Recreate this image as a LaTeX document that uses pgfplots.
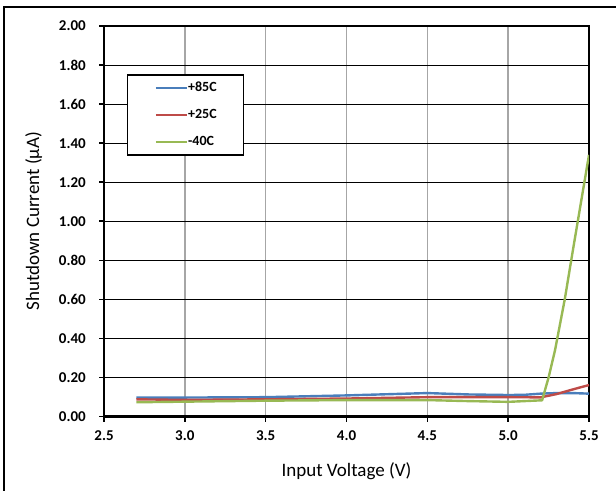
\documentclass[border=0pt]{standalone}
\usepackage{fontspec}
\setmainfont{Carlito}
\usepackage{pgfplots}
\pgfplotsset{compat=1.18}
\definecolor{sA}{HTML}{4A7EBB}
\definecolor{sB}{HTML}{BE4B48}
\definecolor{sC}{HTML}{98B954}
\begin{document}
\begin{tikzpicture}
\useasboundingbox (0,0) rectangle (616bp,491bp);
\draw[line width=2.2bp] (4bp,-10bp) -- (4bp,484bp) -- (640bp,484bp);
\begin{axis}[
  at={(104bp,74.5bp)}, anchor=south west,
  scale only axis, width=485bp, height=390.5bp,
  xmin=2.5, xmax=5.5, ymin=0, ymax=2,
  xtick={2.5,3.0,3.5,4.0,4.5,5.0,5.5},
  ytick={0,0.2,0.4,0.6,0.8,1.0,1.2,1.4,1.6,1.8,2.0},
  axis line style={line width=2.4bp},
  xmajorgrids, ymajorgrids,
  x grid style={draw=black!35, line width=1.6bp},
  y grid style={draw=black, line width=0.9bp},
  tick align=outside, xtick pos=bottom, ytick pos=left,
  major tick length=5bp,
  tick style={black, line width=1.5bp},
  /pgf/number format/assume math mode=true,
  xticklabel style={font=\bfseries\fontsize{15bp}{15bp}\selectfont, inner sep=0pt, anchor=north, yshift=-9bp,
    /pgf/number format/.cd, fixed, fixed zerofill, precision=1},
  yticklabel style={font=\bfseries\fontsize{15bp}{15bp}\selectfont, inner sep=0pt, anchor=east, xshift=-13bp,
    /pgf/number format/.cd, fixed, fixed zerofill, precision=2},
  xlabel={Input Voltage (V)},
  ylabel={Shutdown Current (µA)},
  xlabel style={at={(axis description cs:0.5,-0.1537)}, anchor=base, inner sep=0pt, font=\fontsize{19bp}{19bp}\selectfont},
  ylabel style={at={(axis description cs:-0.134,0.5)}, anchor=base, inner sep=0pt, font=\fontsize{19bp}{19bp}\selectfont},
  legend style={at={(axis description cs:0.0474,0.877)}, anchor=north west,
    draw=black, line width=1.5bp, fill=white,
    inner xsep=27bp, inner ysep=6.5bp, row sep=14bp,
    font=\bfseries\fontsize{14bp}{14bp}\selectfont,
    nodes={inner sep=0pt, text height=10bp, text depth=3bp},
    /tikz/every even column/.append style={column sep=0pt}},
  legend cell align=left,
  legend image code/.code={\draw[#1] (0bp,0bp) -- (31bp,0bp);},
  every axis plot/.append style={line width=2.4bp, line join=round},
]
\addplot[sA] coordinates {(2.7,0.097) (3.0,0.097) (3.5,0.099) (4.0,0.108) (4.25,0.114) (4.5,0.12) (4.75,0.113) (5.0,0.11) (5.1,0.111) (5.2,0.117) (5.3,0.12) (5.4,0.12) (5.5,0.117)};
\addlegendentry{+85C}
\addplot[sB] coordinates {(2.7,0.088) (3.0,0.085) (3.5,0.088) (4.0,0.092) (4.5,0.099) (5.0,0.099) (5.2,0.098) (5.26,0.108) (5.3,0.115) (5.38,0.134) (5.45,0.15) (5.5,0.161)};
\addlegendentry{+25C}
\addplot[sC] coordinates {(2.7,0.073) (3.0,0.076) (3.5,0.081) (4.0,0.084) (4.5,0.084) (4.75,0.079) (5.0,0.075) (5.21,0.083) (5.25,0.2) (5.29,0.34) (5.35,0.6) (5.4,0.85) (5.5,1.34)};
\addlegendentry{-40C}
\end{axis}
\end{tikzpicture}
\end{document}
